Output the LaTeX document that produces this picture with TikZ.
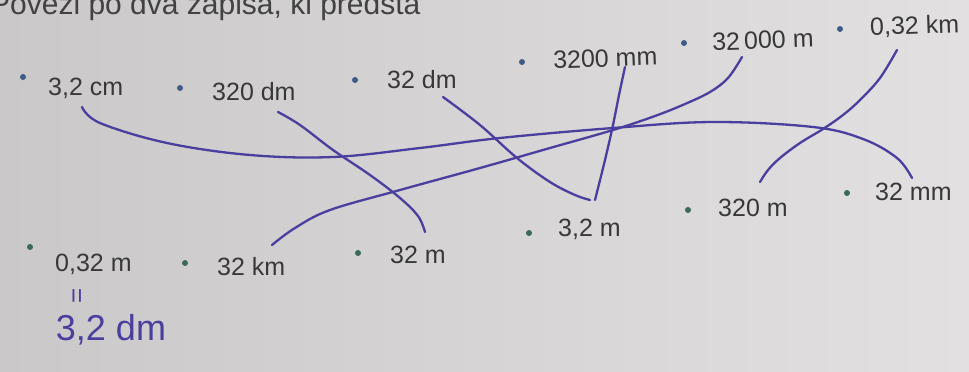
\documentclass[tikz,border=0pt]{standalone}
\usepackage{fontspec}
\setmainfont{Liberation Sans}
\begin{document}
\begin{tikzpicture}[x=1pt,y=-1pt,
  lbl/.style={inner sep=0pt,anchor=west,text=black!78,font=\fontsize{25}{30}\selectfont},
  dot/.style={circle,fill=dotT,inner sep=0pt,minimum size=6pt},
  dotb/.style={circle,fill=dotB,inner sep=0pt,minimum size=6pt},
  pen/.style={draw=penc,line width=2.3pt,line cap=round,line join=round},
  hand/.style={text=penc,inner sep=0pt}]
\definecolor{penc}{HTML}{4A3F9E}
\definecolor{dotT}{HTML}{3F5C88}
\definecolor{dotB}{HTML}{3A6A5C}
\definecolor{paperL}{HTML}{CAC8C8}
\definecolor{paperR}{HTML}{E2E0E0}
\useasboundingbox (0,0) rectangle (969,372);
\shade[left color=paperL,right color=paperR] (0,0) rectangle (969,372);
\begin{scope}
\clip (0,0) rectangle (969,372);
\node[lbl,anchor=base west,text=black!74,font=\fontsize{30}{36}\selectfont] (instr) at (-10,14) {Povezi po dva zapisa, ki predsta};
\end{scope}
% top row
\node[dot] (b1) at (23,77) {};   \node[lbl] (t1) at (48,88) {3,2 cm};
\node[dot] (b2) at (180,88) {};  \node[lbl] (t2) at (212,92) {320 dm};
\node[dot] (b3) at (355,80) {};  \node[lbl] (t3) at (387,80) {32 dm};
\node[dot] (b4) at (522,62) {};  \node[lbl,rotate=2] (t4) at (553,60) {3200 mm};
\node[dot] (b5) at (684,43) {};  \node[lbl,rotate=2] (t5) at (712,42) {32\,000 m};
\node[dot] (b6) at (840,29) {};  \node[lbl,rotate=2] (t6) at (870,28) {0,32 km};
% bottom row
\node[dotb] (c1) at (30,247) {};  \node[lbl] (u1) at (55,264) {0,32 m};
\node[dotb] (c2) at (185,263) {}; \node[lbl] (u2) at (217,267) {32 km};
\node[dotb] (c3) at (358,253) {}; \node[lbl] (u3) at (390,255) {32 m};
\node[dotb] (c4) at (529,233) {}; \node[lbl] (u4) at (558,229) {3,2 m};
\node[dotb] (c5) at (688,210) {}; \node[lbl] (u5) at (718,208) {320 m};
\node[dotb] (c6) at (847,193) {}; \node[lbl] (u6) at (875,192) {32 mm};
% handwriting
\node[hand,rotate=90,font=\fontsize{26}{26}\selectfont] (eq) at (79,296) {=};
\node[hand,font=\fontsize{36}{40}\selectfont] (hw) at (111,330) {3,2 dm};
% connector end points
\coordinate (p1) at (82,107);  \coordinate (q1) at (912,178);
\coordinate (p2) at (278,112); \coordinate (q2) at (425,232);
\coordinate (p3) at (443,97);  \coordinate (q3) at (590,200);
\coordinate (p4) at (625,67);  \coordinate (q4) at (595,200);
\coordinate (p5) at (742,57);  \coordinate (q5) at (272,245);
\coordinate (p6) at (897,50);  \coordinate (q6) at (760,182);
% pen lines
\draw[pen] plot[smooth,tension=0.6] coordinates {(p1) (100,123) (167,143) (250,155) (333,157) (420,148) (500,138) (613,128) (713,122) (813,127) (863,139) (897,158) (q1)};
\draw[pen] plot[smooth,tension=0.6] coordinates {(p2) (300,125) (333,150) (370,175) (400,198) (418,216) (q2)};
\draw[pen] plot[smooth,tension=0.6] coordinates {(p3) (480,125) (517,158) (550,182) (575,195) (q3)};
\draw[pen] plot[smooth,tension=0.6] coordinates {(p4) (619,95) (613,125) (605,160) (q4)};
\draw[pen] plot[smooth,tension=0.6] coordinates {(p5) (728,78) (710,92) (685,104) (655,116) (613,130) (550,148) (480,168) (400,190) (330,210) (295,228) (q5)};
\draw[pen] plot[smooth,tension=0.6] coordinates {(p6) (880,78) (860,100) (843,115) (823,129) (800,143) (780,158) (768,170) (q6)};
\end{tikzpicture}
\end{document}
